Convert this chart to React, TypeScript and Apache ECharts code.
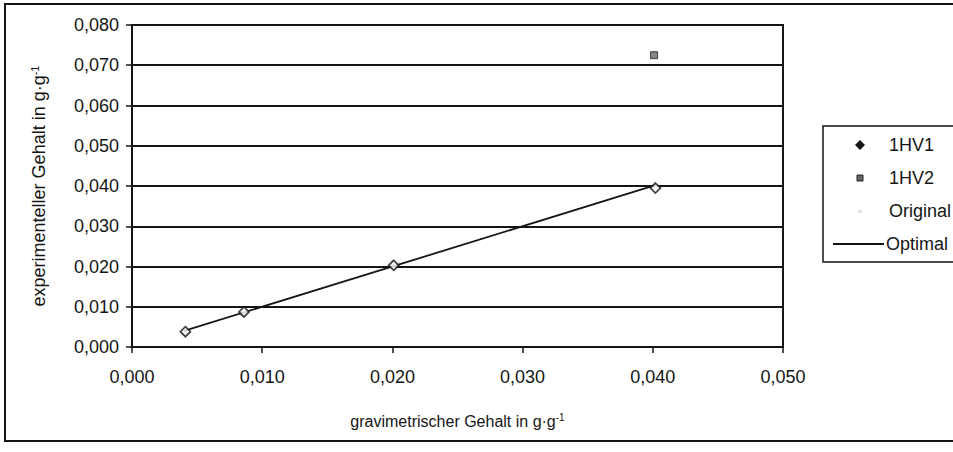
import React, { useEffect, useRef } from "react";
import * as echarts from "echarts";

// Measured contents (g·g⁻¹)
const hv1Points: [number, number][] = [
  [0.0041, 0.0038],
  [0.0086, 0.0087],
  [0.0201, 0.0203],
  [0.0402, 0.0395],
];
const hv2Points: [number, number][] = [[0.0401, 0.0725]];
const originalPoints: [number, number][] = [
  [0.004, 0.004],
  [0.0085, 0.0085],
  [0.0201, 0.0201],
  [0.0402, 0.0402],
];
const optimalLine: [number, number][] = [
  [0.004, 0.004],
  [0.0402, 0.0402],
];
const legendNames = ["1HV1", "1HV2", "Original", "Optimal"];

const FONT = "'Liberation Sans', Arial, sans-serif";
const fmt = (v: number) => v.toFixed(3).replace(".", ",");
const INK = "#151515";

const richTitle = (size: number) => ({
  t: { fontFamily: FONT, fontSize: size, color: INK },
  s: { fontFamily: FONT, fontSize: Math.round(size * 0.6), color: INK, verticalAlign: "top", padding: [0, 0, 9, 0] },
});

export default function App() {
  const ref = useRef<HTMLDivElement>(null);

  useEffect(() => {
    if (!ref.current) return;
    const chart = echarts.init(ref.current, undefined, { renderer: "svg" });

    const lx = 823;
    const ly = 126;
    const rowY = [145, 178, 211, 244];
    const markX = 860;
    const textX = 889;

    chart.setOption({
      animation: false,
      backgroundColor: "#fff",
      textStyle: { fontFamily: FONT, color: INK },
      grid: {
        left: 132,
        right: 953 - 783,
        top: 25,
        bottom: 452 - 347,
        show: true,
        borderColor: INK,
        borderWidth: 2,
        backgroundColor: "transparent",
      },
      xAxis: {
        type: "value",
        min: 0,
        max: 0.05,
        interval: 0.01,
        name: "{t|gravimetrischer Gehalt in g·g}{s|-1}",
        nameLocation: "middle",
        nameGap: 65,
        nameTextStyle: { rich: richTitle(16) },
        axisLine: { show: true, lineStyle: { color: INK, width: 2 } },
        axisTick: { show: true, inside: false, length: 6, lineStyle: { color: INK, width: 1.5 } },
        axisLabel: { formatter: fmt, fontFamily: FONT, fontSize: 18, color: INK, margin: 21 },
        splitLine: { show: false },
      },
      yAxis: {
        type: "value",
        min: 0,
        max: 0.08,
        interval: 0.01,
        name: "{t|experimenteller Gehalt in g·g}{s|-1}",
        nameLocation: "middle",
        nameGap: 83,
        nameTextStyle: { rich: richTitle(18) },
        axisLine: { show: true, lineStyle: { color: INK, width: 2 } },
        axisTick: { show: true, inside: false, length: 6, lineStyle: { color: INK, width: 1.5 } },
        axisLabel: { formatter: fmt, fontFamily: FONT, fontSize: 18, color: INK, margin: 13 },
        splitLine: { show: true, lineStyle: { color: INK, width: 2 } },
      },
      series: [
        {
          name: legendNames[2],
          type: "scatter",
          data: originalPoints,
          symbol: "triangle",
          symbolSize: 7,
          itemStyle: { color: "#e4e4e4" },
          z: 2,
        },
        {
          name: legendNames[3],
          type: "line",
          data: optimalLine,
          showSymbol: false,
          lineStyle: { color: INK, width: 1.8 },
          z: 3,
        },
        {
          name: legendNames[0],
          type: "scatter",
          data: hv1Points,
          symbol: "diamond",
          symbolSize: 10,
          itemStyle: { color: "#fff", borderColor: INK, borderWidth: 1.8 },
          z: 4,
        },
        {
          name: legendNames[1],
          type: "scatter",
          data: hv2Points,
          symbol: "rect",
          symbolSize: 7,
          itemStyle: { color: "#666", borderColor: "#222", borderWidth: 1 },
          z: 5,
        },
      ],
      graphic: [
        // outer chart frame
        {
          type: "rect",
          shape: { x: 5, y: 4, width: 970, height: 437 },
          style: { fill: "none", stroke: INK, lineWidth: 2 },
          z: 1,
        },
        // legend box
        {
          type: "rect",
          shape: { x: lx, y: ly, width: 150, height: 136 },
          style: { fill: "#fff", stroke: INK, lineWidth: 1.5 },
          z: 10,
        },
        {
          type: "polygon",
          shape: { points: [[markX, rowY[0] - 5], [markX + 5, rowY[0]], [markX, rowY[0] + 5], [markX - 5, rowY[0]]] },
          style: { fill: INK },
          z: 11,
        },
        {
          type: "rect",
          shape: { x: markX - 3, y: rowY[1] - 3, width: 6, height: 6 },
          style: { fill: "#666", stroke: "#222", lineWidth: 1 },
          z: 11,
        },
        {
          type: "polygon",
          shape: { points: [[markX, rowY[2] - 3], [markX + 3, rowY[2] + 2], [markX - 3, rowY[2] + 2]] },
          style: { fill: "#e4e4e4" },
          z: 11,
        },
        {
          type: "line",
          shape: { x1: 833, y1: rowY[3], x2: 884, y2: rowY[3] },
          style: { stroke: INK, lineWidth: 2 },
          z: 11,
        },
        ...legendNames.map((n, i) => ({
          type: "text",
          x: i === 3 ? 886 : textX,
          y: rowY[i],
          style: { text: n, font: `18px ${FONT}`, fill: INK, textVerticalAlign: "middle" },
          z: 11,
        })),
      ],
    });

    return () => chart.dispose();
  }, []);

  return (
    <div
      ref={ref}
      style={{ position: "fixed", left: 0, top: 0, width: 953, height: 452, background: "#fff" }}
    />
  );
}
